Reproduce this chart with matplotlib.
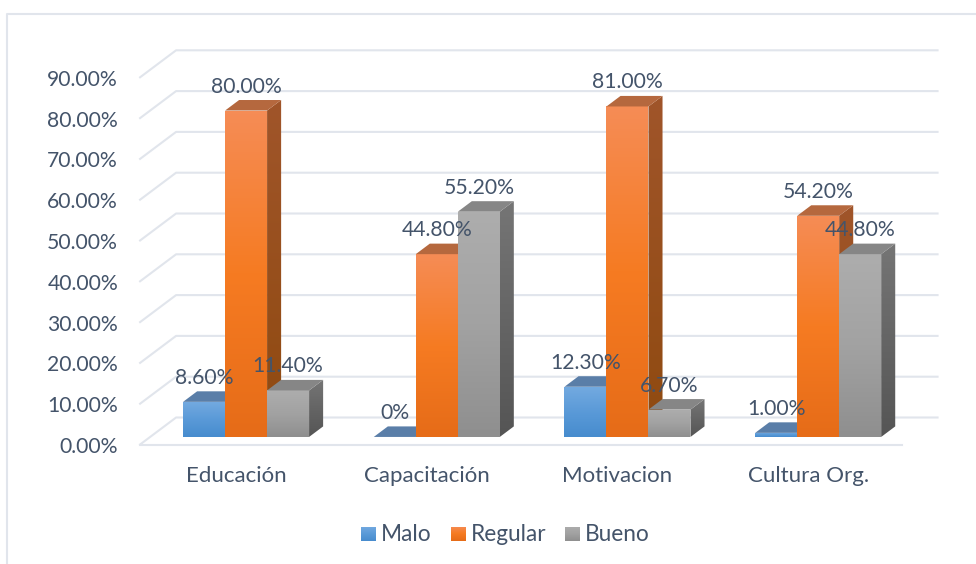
import numpy as np
import matplotlib
matplotlib.use('Agg')
from matplotlib import pyplot as plt
from matplotlib.colors import LinearSegmentedColormap
from matplotlib.patches import Polygon

categories = ['Educación', 'Capacitación', 'Motivacion', 'Cultura Org.']
malo = [8.6, 0, 12.3, 1.0]
regular = [80.0, 44.8, 81.0, 54.2]
bueno = [11.4, 55.2, 6.7, 44.8]
malo_labels = ['8.60%', '0%', '12.30%', '1.00%']
regular_labels = ['80.00%', '44.80%', '81.00%', '54.20%']
bueno_labels = ['11.40%', '55.20%', '6.70%', '44.80%']
y_ticks = [0, 10, 20, 30, 40, 50, 60, 70, 80, 90]

plt.rcParams['font.family'] = ['Lato', 'DejaVu Sans']

W, H = 976, 564
X0, XSTEP = 236.0, 190.7   # pixel of first category, pixels per category
Y0, YSTEP = 444.5, 4.08    # pixel of 0%, pixels per percent

TEXT = '#44546a'
GRID = '#e1e5ec'

# oblique depth of the floor, in data units
DX = 36 / XSTEP
DY = 27 / YSTEP
BAR_D0 = 0.28
BAR_D1 = 0.67
BAR_W = 42 / XSTEP

styles = [
    dict(front=['#74aae0', '#5a9ad8', '#478cce'], top='#5a7ea8', side=['#3f6a98', '#2f5a88']),
    dict(front=['#f58c55', '#f67b22', '#e66c18'], top='#b5683e', side=['#a0552a', '#8f4a10']),
    dict(front=['#adadad', '#a2a2a2', '#8f8f8f'], top='#868686', side=['#757575', '#555555']),
]

fig = plt.figure(figsize=(W / 100, H / 100), dpi=100)
ax = fig.add_axes([0, 0, 1, 1])
ax.axis('off')


def px(x, y):
    return (x - X0) / XSTEP, (Y0 - y) / YSTEP


def ob(x, y, d):
    return x + d * DX, y + d * DY


def grad_poly(pts, colors, zorder):
    pts = np.array(pts)
    cmap = LinearSegmentedColormap.from_list('g', colors)
    poly = Polygon(pts, closed=True, fc='none', ec='none', zorder=zorder)
    ax.add_patch(poly)
    im = ax.imshow(np.linspace(0, 1, 64).reshape(-1, 1), cmap=cmap, aspect='auto',
                   origin='upper', zorder=zorder, interpolation='bilinear',
                   extent=[pts[:, 0].min(), pts[:, 0].max(), pts[:, 1].min(), pts[:, 1].max()])
    im.set_clip_path(poly)


def draw_bar(xc, val, st, z):
    x0, x1 = xc - BAR_W / 2, xc + BAR_W / 2
    a = ob(x0, 0, BAR_D0)
    b = ob(x1, 0, BAR_D0)
    c = ob(x1, val, BAR_D0)
    d = ob(x0, val, BAR_D0)
    c2 = ob(x1, val, BAR_D1)
    d2 = ob(x0, val, BAR_D1)
    b2 = ob(x1, 0, BAR_D1)
    if val > 0:
        grad_poly([a, b, c, d], st['front'], z)
        grad_poly([b, b2, c2, c], st['side'], z)
    ax.add_patch(Polygon([d, c, c2, d2], closed=True, fc=st['top'], ec='none', zorder=z))


# frame of the chart area
ax.plot(*zip(px(7, H), px(7, 14), px(W, 14)), color=GRID, lw=1.5, zorder=1)

# back wall gridlines, side wall and floor
xl, xr = -0.503, 3.49
for t in y_ticks:
    ax.plot(*zip(ob(xl, t, 0), ob(xl, t, 1), ob(xr, t, 1)), color=GRID, lw=1.5, zorder=1)
    ax.text(px(118, 0)[0], t - 2.5 / YSTEP, '%.2f%%' % t, ha='right', va='center', color=TEXT,
            fontsize=15.2, zorder=10)
ax.plot([xl, xr], [0, 0], color=GRID, lw=1.5, zorder=1)

# bars, left to right so each one hides the side of the previous
series = [malo, regular, bueno]
labels = [malo_labels, regular_labels, bueno_labels]
z = 3
for i, name in enumerate(categories):
    for s in range(3):
        xc = i + (s - 1) * BAR_W
        draw_bar(xc, series[s][i], styles[s], z)
        z += 1
        lx, ly = ob(xc, series[s][i], BAR_D0)
        ax.text(lx, ly + 24 / YSTEP, labels[s][i], ha='center', va='center', color=TEXT,
                fontsize=15.2, zorder=50)
    ax.text(i, px(0, 476)[1], name, ha='center', va='center', color=TEXT, fontsize=16, zorder=50)

# legend
legend_names = ['Malo', 'Regular', 'Bueno']
swatch_x = [361, 451, 565]
for name, sx, st in zip(legend_names, swatch_x, styles):
    p0 = px(sx, 541)
    p1 = px(sx + 15, 527)
    grad_poly([p0, (p1[0], p0[1]), p1, (p0[0], p1[1])], st['front'], 50)
    tx, ty = px(sx + 20, 534.5)
    ax.text(tx, ty, name, ha='left', va='center', color=TEXT, fontsize=16.3, zorder=50)

ax.set_xlim(-X0 / XSTEP, (W - X0) / XSTEP)
ax.set_ylim((Y0 - H) / YSTEP, Y0 / YSTEP)

fig.savefig('out.png', dpi=100)
